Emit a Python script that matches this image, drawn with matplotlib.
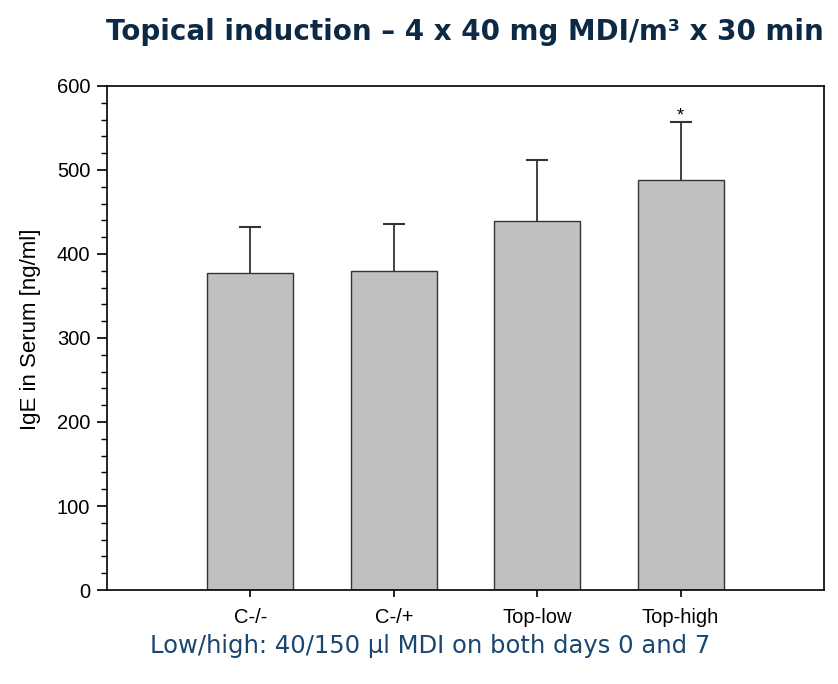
import matplotlib
matplotlib.use("Agg")
import matplotlib.pyplot as plt
from matplotlib.ticker import MultipleLocator

categories = ["C-/-", "C-/+", "Top-low", "Top-high"]
means = [377, 380, 439, 488]
errors = [55, 56, 73, 69]
stars = ["", "", "", "*"]

fig = plt.figure(figsize=(8.38, 6.84), dpi=100)
ax = fig.add_axes([107/838, 1 - 590/684, (824-107)/838, (590-86)/684])

x = list(range(1, len(categories) + 1))
tops = [m + e for m, e in zip(means, errors)]
ax.bar(x, means, width=0.6, color="#c0c0c0", edgecolor="#333333", linewidth=1.0, zorder=2)
ax.vlines(x, means, tops, colors="#333333", linewidth=1.3, zorder=3)
ax.plot(x, tops, linestyle="none", marker="_", markersize=16, markeredgewidth=1.5,
        color="#333333", zorder=3)
for xi, t, s in zip(x, tops, stars):
    if s:
        ax.text(xi, t - 3, s, ha="center", va="bottom", fontsize=13,
                family="Liberation Sans")

ax.set_xlim(0, 5)
ax.set_ylim(0, 600)
ax.set_xticks(x)
ax.set_xticklabels(categories, family="Liberation Sans", fontsize=14.5)
ax.yaxis.set_major_locator(MultipleLocator(100))
ax.yaxis.set_minor_locator(MultipleLocator(20))
for lab in ax.get_yticklabels():
    lab.set_family("Liberation Sans")
    lab.set_fontsize(14.5)
ax.tick_params(axis="y", which="major", length=7, width=1.2, direction="out", pad=5)
ax.tick_params(axis="y", which="minor", length=4, width=1.0, direction="out")
ax.tick_params(axis="x", length=5, width=1.2, direction="out", pad=8)
for sp in ax.spines.values():
    sp.set_linewidth(1.2)
ax.set_ylabel("IgE in Serum [ng/ml]", family="Liberation Sans", fontsize=16)
ax.yaxis.set_label_coords((41 - 107) / 717, (590 - 329) / 504)

fig.text(465/838, 1 - 32/684, "Topical induction \u2013 4 x 40 mg MDI/m\u00b3 x 30 min",
         ha="center", va="center", fontsize=20, fontweight="bold", color="#0c2a46",
         family="DejaVu Sans")
fig.text(430/838, 1 - 646/684, "Low/high: 40/150 \u00b5l MDI on both days 0 and 7",
         ha="center", va="center", fontsize=17.5, color="#1a4670", family="DejaVu Sans")

fig.savefig("out.png", dpi=100)
